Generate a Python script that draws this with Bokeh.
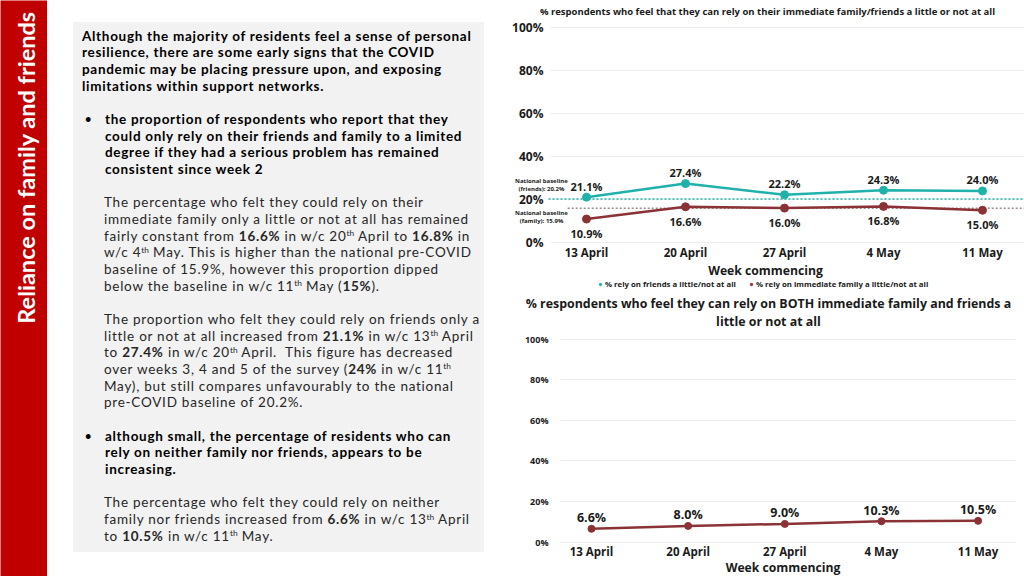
import math
from bokeh.plotting import figure
from bokeh.models import (ColumnDataSource, LabelSet, Label, FixedTicker,
                          Legend, LegendItem, Div, Range1d)
from bokeh.layouts import row, column
from bokeh.embed import file_html
from bokeh.resources import INLINE
from bokeh.core.properties import value

# ---------------- data ----------------
weeks = ["13 April", "20 April", "27 April", "4 May", "11 May"]
friends = [21.1, 27.4, 22.2, 24.3, 24.0]
family = [10.9, 16.6, 16.0, 16.8, 15.0]
neither = [6.6, 8.0, 9.0, 10.3, 10.5]
baseline_friends = 20.2
baseline_family = 15.9
y_ticks = [0, 20, 40, 60, 80, 100]

top_title = "% respondents who feel that they can rely on their immediate family/friends a little or not at all"
bottom_title_1 = "% respondents who feel they can rely on BOTH immediate family and friends a"
bottom_title_2 = "little or not at all"
x_title = "Week commencing"
legend_friends = "% rely on friends a little/not at all"
legend_family = "% rely on immediate family a little/not at all"
side_title = "Reliance on family and friends"
baseline_note_friends = ["National baseline", f"(friends): {baseline_friends}%"]
baseline_note_family = ["National baseline", f"(family): {baseline_family}%"]

TEAL = "#20b2aa"
MAROON = "#8b3236"
BASE_GREY = "#9c8c8c"
RED = "#c00000"
FONT = "Open Sans"
TXT = "#1a1a1a"

x_idx = list(range(len(weeks)))


def make_chart(width, height, xr, yr, plot_x0, plot_x1, xbounds, ylab_size, ylab_standoff,
               xtitle_standoff):
    p = figure(width=width, height=height, x_range=Range1d(*xr), y_range=Range1d(*yr),
               output_backend="svg", toolbar_location=None,
               min_border=0, min_border_left=0, min_border_right=0,
               min_border_top=0, min_border_bottom=0)
    p.outline_line_color = None
    p.background_fill_color = "white"
    p.border_fill_color = "white"
    p.xgrid.grid_line_color = None
    p.ygrid.grid_line_color = "#ececec"
    p.ygrid.grid_line_width = 1
    try:
        p.ygrid.cross_bounds = (plot_x0, plot_x1)
    except Exception:
        pass
    p.xaxis.ticker = FixedTicker(ticks=x_idx)
    p.xaxis.major_label_overrides = {i: w for i, w in zip(x_idx, weeks)}
    p.xaxis.fixed_location = 0
    p.xaxis.bounds = xbounds
    p.yaxis.ticker = FixedTicker(ticks=y_ticks)
    p.yaxis.major_label_overrides = {t: f"{t}%" for t in y_ticks}
    p.yaxis.fixed_location = plot_x0
    p.yaxis.bounds = (0, 100)
    for ax in (p.xaxis[0], p.yaxis[0]):
        ax.axis_line_color = None
        ax.major_tick_line_color = None
        ax.minor_tick_line_color = None
        ax.major_tick_out = 0
        ax.major_tick_in = 0
        ax.major_label_text_font = FONT
        ax.major_label_text_font_style = "bold"
        ax.major_label_text_color = TXT
    p.yaxis.major_label_text_font_size = ylab_size
    p.yaxis.major_label_standoff = ylab_standoff
    p.xaxis.major_label_text_font_size = "11.5px"
    p.xaxis.major_label_standoff = 2
    p.xaxis.axis_label = x_title
    p.xaxis.axis_label_text_font = FONT
    p.xaxis.axis_label_text_font_style = "bold"
    p.xaxis.axis_label_text_font_size = "12.2px"
    p.xaxis.axis_label_text_color = TXT
    p.xaxis.axis_label_standoff = xtitle_standoff
    return p


def value_labels(p, ys, dy, size):
    src = ColumnDataSource(dict(x=x_idx, y=ys, t=[f"{v:.1f}%" for v in ys]))
    p.add_layout(LabelSet(x="x", y="y", text="t", source=src, y_offset=dy,
                          text_align="center", text_baseline="middle",
                          text_font=value(FONT), text_font_style="bold",
                          text_font_size=size, text_color=TXT))


def text_label(p, x, y, txt, size):
    p.add_layout(Label(x=x, y=y, text=txt, text_align="center", text_baseline="middle",
                       text_font=FONT, text_font_style="bold", text_font_size=size,
                       text_color=TXT))


# ---------------- top chart ----------------
TOP_X0, TOP_X1 = -0.364, 4.424
top = make_chart(524, 293, (-0.8687, 4.4242), (-23.72, 112.56), TOP_X0, TOP_X1,
                 (-0.4, 4.016), "12px", 7, -1)

top.segment(x0=[-0.384], y0=[baseline_friends], x1=[TOP_X1], y1=[baseline_friends],
            line_color=TEAL, line_dash="2 2", line_width=1.5)
top.segment(x0=[-0.19], y0=[baseline_family], x1=[TOP_X1], y1=[baseline_family],
            line_color=BASE_GREY, line_dash="2 2", line_width=1.5)

top.line(x_idx, friends, line_color=TEAL, line_width=2.5)
r_fr = top.scatter(x_idx, friends, size=8, color=TEAL)
top.line(x_idx, family, line_color=MAROON, line_width=2.5)
r_fa = top.scatter(x_idx, family, size=8, color=MAROON)

value_labels(top, friends, 11, "11px")
value_labels(top, family, -14.5, "11px")

text_label(top, 1.828, 107.4, top_title, "9.5px")
for txt, yy in zip(baseline_note_friends, (28.8, 25.1)):
    text_label(top, -0.455, yy, txt, "6px")
for txt, yy in zip(baseline_note_family, (13.5, 9.8)):
    text_label(top, -0.455, yy, txt, "6px")

legend = Legend(items=[LegendItem(label=legend_friends, renderers=[r_fr]),
                       LegendItem(label=legend_family, renderers=[r_fa])],
                orientation="horizontal", location=(97, 4),
                label_text_font=FONT, label_text_font_style="bold", label_text_font_size="7.8px",
                label_text_color=TXT, glyph_width=6, glyph_height=6, label_height=9,
                label_standoff=2, spacing=12, padding=0, margin=0,
                border_line_color=None, background_fill_alpha=0)
top.add_layout(legend)

# ---------------- bottom chart ----------------
BOT_X0, BOT_X1 = -0.3207, 4.387
bot = make_chart(524, 283, (-0.9415, 4.480), (-16.9, 122.5), BOT_X0, BOT_X1,
                 (-0.37, 4.34), "9px", 12, -4)
bot.line(x_idx, neither, line_color=MAROON, line_width=2.5)
bot.scatter(x_idx, neither, size=7, color=MAROON)
value_labels(bot, neither, 11, "12.5px")
text_label(bot, 1.831, 117.6, bottom_title_1, "12.4px")
text_label(bot, 1.831, 108.7, bottom_title_2, "12.4px")

# ---------------- red side bar ----------------
side = figure(width=47, height=576, x_range=Range1d(0, 47), y_range=Range1d(0, 576),
              output_backend="svg", toolbar_location=None,
              min_border=0, min_border_left=0, min_border_right=0, min_border_top=0, min_border_bottom=0)
side.axis.visible = False
side.grid.visible = False
side.outline_line_color = None
side.background_fill_color = RED
side.border_fill_color = RED
side.add_layout(Label(x=25, y=576 - 167, text=side_title, angle=math.pi / 2,
                      text_align="center", text_baseline="middle",
                      text_font="Lato", text_font_style="bold", text_font_size="23.5px",
                      text_color="white"))

# ---------------- text panel ----------------
LH = 16.67
B = "font-weight:700;color:#000;letter-spacing:0.7px;"
N = "font-weight:400;color:#262626;letter-spacing:0.75px;"


def sup(s):
    return f'<span style="font-size:0.62em;position:relative;top:-0.55em;letter-spacing:0;">{s}</span>'


lines = [
    (0, 9, B, "Although the majority of residents feel a sense of personal"),
    (1, 9, B, "resilience, there are some early signs that the COVID"),
    (2, 9, B, "pandemic may be placing pressure upon, and exposing"),
    (3, 9, B, "limitations within support networks."),
    (5, 12, B + "font-size:11px;", "&bull;"),
    (5, 32, B, "the proportion of respondents who report that they"),
    (6, 32, B, "could only rely on their friends and family to a limited"),
    (7, 32, B, "degree if they had a serious problem has remained"),
    (8, 32, B, "consistent since week 2"),
    (10, 31, N, "The percentage who felt they could rely on their"),
    (11, 31, N, "immediate family only a little or not at all has remained"),
    (12, 31, N, f"fairly constant from <b>16.6%</b> in w/c 20{sup('th')} April to <b>16.8%</b> in"),
    (13, 31, N, f"w/c 4{sup('th')} May. This is higher than the national pre-COVID"),
    (14, 31, N, "baseline of 15.9%, however this proportion dipped"),
    (15, 31, N, f"below the baseline in w/c 11{sup('th')} May (<b>15%</b>)."),
    (17, 31, N, "The proportion who felt they could rely on friends only a"),
    (18, 31, N, f"little or not at all increased from <b>21.1%</b> in w/c 13{sup('th')} April"),
    (19, 31, N, f"to <b>27.4%</b> in w/c 20{sup('th')} April.&nbsp; This figure has decreased"),
    (20, 31, N, f"over weeks 3, 4 and 5 of the survey (<b>24%</b> in w/c 11{sup('th')}"),
    (21, 31, N, "May), but still compares unfavourably to the national"),
    (22, 31, N, "pre-COVID baseline of 20.2%."),
    (24, 12, B + "font-size:11px;", "&bull;"),
    (24, 32, B, "although small, the percentage of residents who can"),
    (25, 32, B, "rely on neither family nor friends, appears to be"),
    (26, 32, B, "increasing."),
    (28, 31, N, "The percentage who felt they could rely on neither"),
    (29, 31, N, f"family nor friends increased from <b>6.6%</b> in w/c 13{sup('th')} April"),
    (30, 31, N, f"to <b>10.5%</b> in w/c 11{sup('th')} May."),
]

parts = []
for idx, left, st, html in lines:
    top_px = 5.67 + idx * LH
    parts.append(
        f'<div style="position:absolute;left:{left}px;top:{top_px:.2f}px;height:{LH}px;'
        f'line-height:{LH}px;white-space:nowrap;{st}">{html}</div>')

panel_html = (
    '<div style="position:absolute;left:26px;top:22px;width:411px;height:530px;'
    'background:#f2f2f2;font-family:Lato,sans-serif;font-size:13.5px;">'
    + "".join(parts) + '</div>')

panel = Div(text=panel_html, width=453, height=576, margin=0,
            styles={"position": "relative"})

layout = row(side, panel, column(top, bot, spacing=0), spacing=0)

with open("out.html", "w") as f:
    f.write(file_html(layout, INLINE, title="Reliance on family and friends"))
